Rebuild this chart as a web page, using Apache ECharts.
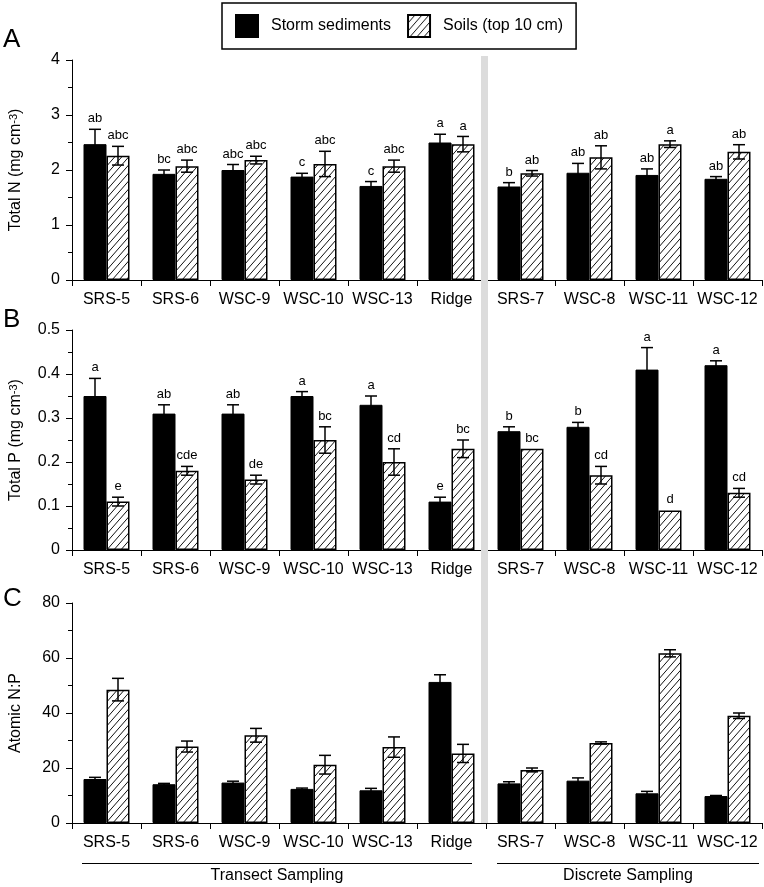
<!DOCTYPE html>
<html><head><meta charset="utf-8">
<script src="https://cdn.jsdelivr.net/npm/echarts@6/dist/echarts.min.js"></script>
<style>html,body{margin:0;padding:0;background:#fff}#c{width:764px;height:887px}</style>
</head><body><div id="c"></div>
<script>
const categories = ['SRS-5','SRS-6','WSC-9','WSC-10','WSC-13','Ridge','SRS-7','WSC-8','WSC-11','WSC-12'];
const seriesNames = ['Storm sediments','Soils (top 10 cm)'];
const panelLetters = ['A','B','C'];
const groupLabels = ['Transect Sampling','Discrete Sampling'];

// Panel A: Total N (mg cm-3)
const nSed = [2.47,1.93,2.00,1.88,1.71,2.50,1.70,1.95,1.91,1.84];
const nSedErr = [0.27,0.07,0.10,0.06,0.08,0.15,0.07,0.17,0.11,0.04];
const nSoil = [2.26,2.07,2.18,2.11,2.07,2.47,1.94,2.23,2.47,2.33];
const nSoilErr = [0.17,0.11,0.07,0.23,0.11,0.14,0.05,0.21,0.06,0.13];
const nSedLetters = ['ab','bc','abc','c','c','a','b','ab','ab','ab'];
const nSoilLetters = ['abc','abc','abc','abc','abc','a','ab','ab','a','ab'];

// Panel B: Total P (mg cm-3)
const pSed = [0.35,0.31,0.31,0.35,0.33,0.11,0.27,0.28,0.41,0.42];
const pSedErr = [0.04,0.02,0.02,0.01,0.02,0.01,0.01,0.01,0.05,0.01];
const pSoil = [0.11,0.18,0.16,0.25,0.20,0.23,0.23,0.17,0.09,0.13];
const pSoilErr = [0.01,0.01,0.01,0.03,0.03,0.02,0,0.02,0,0.01];
const pSedLetters = ['a','ab','ab','a','a','e','b','b','a','a'];
const pSoilLetters = ['e','cde','de','bc','cd','bc','bc','cd','d','cd'];

// Panel C: Atomic N:P
const npSed = [16.0,14.1,14.7,12.4,11.9,51.3,14.4,15.4,10.8,9.8];
const npSedErr = [0.6,0.3,0.5,0.3,0.7,2.6,0.6,1.0,0.7,0.2];
const npSoil = [48.5,27.8,31.9,21.2,27.6,25.3,19.3,29.1,61.7,39.0];
const npSoilErr = [4.1,2.0,2.5,3.4,3.7,3.3,0.7,0.4,1.3,1.0];

const yMax = [4, 0.5, 80];
const yInterval = [1, 0.1, 20];
const yNames = ['{a|Total N (mg cm}{s|-3}{a|)}','{a|Total P (mg cm}{s|-3}{a|)}','{a|Atomic N:P}'];

const FONT = '"Liberation Sans", Arial, sans-serif';
const BAR_W = 23;

// hatch pattern
const tile = document.createElement('canvas');
tile.width = 7; tile.height = 8;
(function(){
  const g = tile.getContext('2d');
  g.fillStyle = '#fff'; g.fillRect(0,0,7,8);
  g.strokeStyle = '#111'; g.lineWidth = 1;
  g.beginPath();
  [[-7,0],[0,0],[7,0]].forEach(([dx])=>{ g.moveTo(dx, 8); g.lineTo(dx+7, 0); });
  g.stroke();
})();
const hatch = {image: tile, repeat: 'repeat'};

const grids = [
  {left:72, width:690, top:60, height:220},
  {left:72, width:690, top:330, height:220},
  {left:72, width:690, top:603, height:220}
];

const panels = [
  {sed:nSed, sedErr:nSedErr, soil:nSoil, soilErr:nSoilErr, sedL:nSedLetters, soilL:nSoilLetters},
  {sed:pSed, sedErr:pSedErr, soil:pSoil, soilErr:pSoilErr, sedL:pSedLetters, soilL:pSoilLetters},
  {sed:npSed, sedErr:npSedErr, soil:npSoil, soilErr:npSoilErr, sedL:null, soilL:null}
];

function errSeries(gi, vals, errs, letters, side) {
  return {
    type:'custom', xAxisIndex:gi, yAxisIndex:gi, z:5, silent:true,
    data: vals.map((v,i)=>[i, v, errs[i]]),
    renderItem: function(params, api) {
      const i = api.value(0), v = api.value(1), e = api.value(2);
      const letter = letters ? letters[params.dataIndex] : '';
      const c = api.coord([i, v]);
      const x = c[0] + side*BAR_W/2;
      const top = api.coord([i, v+e])[1];
      const bot = api.coord([i, v-e])[1];
      const ls = {stroke:'#000', lineWidth:1.5};
      const ch = [];
      if (e > 0) {
        ch.push({type:'line', shape:{x1:x,y1:top,x2:x,y2:bot}, style:ls});
        ch.push({type:'line', shape:{x1:x-6,y1:top,x2:x+6,y2:top}, style:ls});
        ch.push({type:'line', shape:{x1:x-6,y1:bot,x2:x+6,y2:bot}, style:ls});
      }
      if (letter) {
        ch.push({type:'text', style:{text:letter, x:x, y:Math.min(top, c[1]) - 4,
          textAlign:'center', textVerticalAlign:'bottom', font:'13px ' + FONT, fill:'#000'}});
      }
      return {type:'group', children:ch};
    }
  };
}

const xAxes = grids.map((g,gi)=>({
  type:'category', gridIndex:gi, data:categories, boundaryGap:true,
  axisLine:{show:true, lineStyle:{color:'#000', width:1}},
  axisTick:{show:true, interval:0, length:6, alignWithLabel:false, lineStyle:{color:'#000'}},
  axisLabel:{interval:0, margin:12, fontSize:16, fontFamily:FONT, color:'#000'},
  splitLine:{show:false}
}));

const yAxes = grids.map((g,gi)=>({
  type:'value', gridIndex:gi, min:0, max:yMax[gi], interval:yInterval[gi],
  name:yNames[gi], nameLocation:'middle', nameGap:48,
  nameTextStyle:{color:'#000', rich:{a:{fontSize:16, fontFamily:FONT, color:'#000'}, s:{fontSize:11, fontFamily:FONT, color:'#000', verticalAlign:'top'}}},
  axisLine:{show:true, lineStyle:{color:'#000', width:1}},
  axisTick:{show:true, length:6, lineStyle:{color:'#000'}},
  minorTick:{show:true, splitNumber:2, length:4, lineStyle:{color:'#000'}},
  axisLabel:{fontSize:16, fontFamily:FONT, color:'#000', margin:12},
  splitLine:{show:false}
}));

const series = [];
panels.forEach((p,gi)=>{
  series.push({name:seriesNames[0], type:'bar', xAxisIndex:gi, yAxisIndex:gi, data:p.sed,
    barWidth:BAR_W, barGap:'0%', itemStyle:{color:'#000', borderColor:'#000', borderWidth:1}});
  series.push({name:seriesNames[1], type:'bar', xAxisIndex:gi, yAxisIndex:gi, data:p.soil,
    barWidth:BAR_W, barGap:'0%', itemStyle:{color:hatch, borderColor:'#000', borderWidth:1.5}});
  series.push(errSeries(gi, p.sed, p.sedErr, p.sedL, -1));
  series.push(errSeries(gi, p.soil, p.soilErr, p.soilL, 1));
});

const graphics = [
  {type:'rect', shape:{x:481, y:56, width:7, height:767}, style:{fill:'#dcdcdc'}, z:100},
  {type:'text', x:3, y:27, style:{text:panelLetters[0], font:'26px ' + FONT, fill:'#000'}, z:100},
  {type:'text', x:3, y:307, style:{text:panelLetters[1], font:'26px ' + FONT, fill:'#000'}, z:100},
  {type:'text', x:3, y:586, style:{text:panelLetters[2], font:'26px ' + FONT, fill:'#000'}, z:100},
  {type:'line', shape:{x1:82, y1:863.5, x2:472, y2:863.5}, style:{stroke:'#000', lineWidth:1}, z:100},
  {type:'line', shape:{x1:497, y1:863.5, x2:759, y2:863.5}, style:{stroke:'#000', lineWidth:1}, z:100},
  {type:'text', x:277, y:876, style:{text:groupLabels[0], font:'16px ' + FONT, fill:'#000', textAlign:'center', textVerticalAlign:'middle'}, z:100},
  {type:'text', x:628, y:876, style:{text:groupLabels[1], font:'16px ' + FONT, fill:'#000', textAlign:'center', textVerticalAlign:'middle'}, z:100}
];

const chart = echarts.init(document.getElementById('c'), null, {renderer:'canvas'});
chart.setOption({
  animation:false,
  backgroundColor:'#fff',
  textStyle:{fontFamily:FONT},
  legend:{data:seriesNames, left:222, top:3, padding:[11,13,11,13], itemWidth:22, itemHeight:22, itemGap:16,
    borderColor:'#000', borderWidth:1.5, selectedMode:false, icon:'rect',
    textStyle:{fontSize:16, fontFamily:FONT, color:'#000', padding:[0,0,0,8]}},
  grid:grids,
  xAxis:xAxes,
  yAxis:yAxes,
  series:series,
  graphic:graphics
});
</script></body></html>
